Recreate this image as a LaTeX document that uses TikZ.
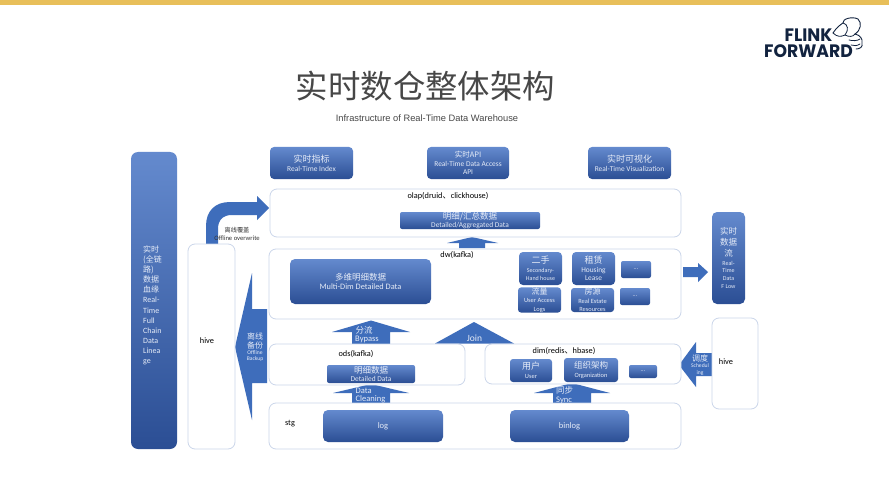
\documentclass[tikz,border=0pt]{standalone}
\usepackage{fontspec}
\setmainfont{Carlito}
\newfontfamily\cjk{Noto Sans CJK SC}
\newfontfamily\arialf{Liberation Sans}
\newfontfamily\logof{Poppins}[BoldFont={Poppins Bold}]
\definecolor{gtop}{HTML}{648ACE}
\definecolor{gbot}{HTML}{2B4E94}
\definecolor{arrowblue}{HTML}{3E6DBB}
\definecolor{edge}{HTML}{CBD6EA}
\definecolor{gold}{HTML}{E8BF5A}
\definecolor{navy}{HTML}{12233F}
\definecolor{paleText}{HTML}{E6ECF8}
\newcommand\zh[2]{{\cjk\fontsize{#1}{#1}\selectfont #2}}
\newcommand\en[2]{{\fontsize{#1}{#1}\selectfont #2}}
\tikzset{
  sz/.style 2 args={minimum width=#1pt,minimum height=#2pt},
  bluebox/.style={rounded corners=#1pt,top color=gtop,bottom color=gbot,draw=none,text=paleText,
    align=center,inner sep=0pt,font=\fontsize{7}{8.6}\selectfont},
  bluebox/.default=4,
  panel/.style={rounded corners=7pt,draw=edge,line width=.8pt,fill=white,inner sep=0pt},
  tag/.style={text=black,inner sep=0pt,font=\fontsize{8.3}{10}\selectfont},
  blockarrow/.style={fill=arrowblue,draw=none},
  arrowtext/.style={text=paleText,inner sep=0pt,align=center,font=\fontsize{7}{8}\selectfont},
  logotext/.style={inner sep=0pt,text=navy,align=center,xscale=.957,transform shape,font=\logof\bfseries\fontsize{18}{16}\selectfont},
}
\begin{document}
\begin{tikzpicture}[x=1pt,y=-1pt]
\useasboundingbox (0,0) rectangle (889,500);
\fill[white] (0,0) rectangle (889,500);
\fill[gold] (0,0) rectangle (889,5);

% logo
\node[logotext] (logo) at (808.5,43) {FLINK\\FORWARD};
\draw[navy,line width=.9pt,line join=round,line cap=round]
  (833,33) .. controls (837,27) and (840,25) .. (843,23)
  .. controls (842,19) and (852,16) .. (858,19)
  .. controls (862,23) and (861,30) .. (855,34)
  .. controls (860,35) and (863,39) .. (862,43)
  .. controls (863,47) and (860,49) .. (856,49);
\draw[navy,line width=.8pt,line cap=round]
  (843,23) .. controls (848,24) and (849,30) .. (845,35)
  .. controls (841,37) and (837,37) .. (833,33);
\draw[navy,line width=.8pt,line cap=round]
  (845,35) .. controls (849,37) and (853,37) .. (855,34)
  (849,40) .. controls (853,41) and (857,41) .. (860,39)
  (851,45) .. controls (854,46) and (857,46) .. (860,44);

% titles
\node[inner sep=0pt,text=black!72] (title) at (425.5,86) {\zh{32.4}{实时数仓整体架构}};
\node[inner sep=0pt,text=black!72] (subtitle) at (427,118.5) {\arialf\fontsize{9.3}{11}\selectfont Infrastructure of Real-Time Data Warehouse};

% block arrows (drawn first; panels overlap them)
\fill[blockarrow] (206,246) -- (206,226) .. controls (206,211) and (215,202) .. (230,202)
  -- (257,202) -- (257,196) -- (269,208) -- (257,220) -- (257,215) -- (232,215)
  .. controls (223,215) and (218,220) .. (218,229) -- (218,246) -- cycle;
\fill[blockarrow] (472,237) -- (498,243) -- (485,243) -- (485,248) -- (459,248) -- (459,243) -- (447,243) -- cycle;
\fill[blockarrow] (683,267) -- (698,267) -- (698,263) -- (708,272) -- (698,282) -- (698,277) -- (683,277) -- cycle;
\fill[blockarrow] (371,320.5) -- (410,332) -- (390,332) -- (390,345) -- (352,345) -- (352,332) -- (332,332) -- cycle;
\fill[blockarrow] (371,384) -- (409,393) -- (390,393) -- (390,404) -- (352,404) -- (352,393) -- (333,393) -- cycle;
\fill[blockarrow] (474,322) -- (514,343.5) -- (435,343.5) -- cycle;
\fill[blockarrow] (572,383) -- (610,393) -- (591,393) -- (591,404) -- (553,404) -- (553,393) -- (534,393) -- cycle;
\fill[blockarrow] (235,347) -- (252,273) -- (252,309) -- (267,309) -- (267,383) -- (252,383) -- (252,420) -- cycle;
\fill[blockarrow] (679,365) -- (696,342) -- (696,353) -- (713,353) -- (713,376) -- (696,376) -- (696,387) -- cycle;

% arrow labels
\node[arrowtext] (bypassZh) at (364,330) {\zh{8.5}{分流}};
\node[arrowtext] (bypassEn) at (367,339) {\en{8.5}{Bypass}};
\node[arrowtext,anchor=west] (cleanA) at (355.5,391) {\en{8.5}{Data}};
\node[arrowtext,anchor=west] (cleanB) at (355.5,399.5) {\en{8.5}{Cleaning}};
\node[arrowtext] (joinT) at (474.5,338) {\en{9.5}{Join}};
\node[arrowtext,anchor=west] (syncZh) at (556,390.5) {\zh{8.5}{同步}};
\node[arrowtext,anchor=west] (syncEn) at (556,400) {\en{8.5}{Sync}};
\node[arrowtext] (backupA) at (255,336) {\zh{8}{离线}};
\node[arrowtext] (backupB) at (255,345) {\zh{8}{备份}};
\node[arrowtext] (backupC) at (255,352.3) {\en{5.6}{Offline}};
\node[arrowtext] (backupD) at (255,359) {\en{5.6}{Backup}};
\node[arrowtext] (schedA) at (700,358.5) {\zh{8}{调度}};
\node[arrowtext] (schedB) at (700,366) {\en{5.6}{Schedul}};
\node[arrowtext] (schedC) at (700,373) {\en{5.6}{ing}};
\node[inner sep=0pt,text=black!80] (overA) at (237,230) {\zh{6.2}{离线覆盖}};
\node[inner sep=0pt,text=black!80] (overB) at (237,238) {\en{6.6}{Offline overwrite}};

% lineage column
\node[bluebox=7,sz={46}{297}] (lineage) at (154,300.5) {};
\node[anchor=north west,inner sep=0pt,text=paleText,align=left,font=\fontsize{8}{10.1}\selectfont] (lineageT) at (143,245.5)
  {\zh{8}{实时}\\\zh{8}{(全链}\\\zh{8}{路)}\\\zh{8}{数据}\\\zh{8}{血缘}\\Real-\\Time\\Full\\Chain\\Data\\Linea\\ge};

% panels
\node[panel,sz={47}{205}] (hiveL) at (211.5,346.5) {};
\node[tag] (hiveLT) at (207,341) {hive};
\node[panel,sz={411}{48}] (olap) at (475.5,213) {};
\node[tag] (olapT) at (448,196.5) {olap(druid\zh{8.2}{、}clickhouse)};
\node[panel,sz={412}{70}] (dw) at (475,284) {};
\node[tag] (dwT) at (457,255.5) {dw(kafka)};
\node[panel,sz={196}{41}] (ods) at (367,364.5) {};
\node[tag] (odsT) at (356,354) {ods(kafka)};
\node[panel,sz={196}{40}] (dim) at (583,364) {};
\node[tag] (dimT) at (564,351.5) {dim(redis\zh{8.2}{、}hbase)};
\node[panel,sz={412}{46}] (stg) at (475,426) {};
\node[tag] (stgT) at (290,424) {stg};
\node[panel,sz={46}{91}] (hiveR) at (735,363.5) {};
\node[tag] (hiveRT) at (726,361.5) {hive};

% blue boxes
\node[bluebox,sz={83}{32}] (index) at (311.5,163) {\zh{9}{实时指标}\\\en{7.5}{Real-Time Index}};
\node[bluebox,sz={82}{32}] (api) at (468,163) {\zh{7.5}{实时API}\\\en{7.4}{Real-Time Data Access}\\\en{7.4}{API}};
\node[bluebox,sz={83}{32}] (vis) at (629.5,163) {\zh{9}{实时可视化}\\\en{7.4}{Real-Time Visualization}};
\node[bluebox=2,sz={140}{17}] (agg) at (470,220.5) {\zh{8.5}{明细/汇总数据}\\[-1pt]\en{7.4}{Detailed/Aggregated Data}};
\node[bluebox=5,sz={141}{45}] (multi) at (360.5,281.5) {\zh{8.5}{多维明细数据}\\[1pt]\en{8.3}{Multi-Dim Detailed Data}};
\node[bluebox,sz={43}{33}] (second) at (540.5,268.5) {\zh{9}{二手}\\\en{6}{Secondary-}\\\en{6}{Hand house}};
\node[bluebox,sz={43}{33}] (lease) at (593.5,268.5) {\zh{9}{租赁}\\\en{7.4}{Housing}\\\en{7.4}{Lease}};
\node[bluebox=2,sz={30}{17}] (moreA) at (636,269.5) {\en{6}{...}};
\node[bluebox=3,sz={43}{24}] (logs) at (539.5,300) {\zh{8}{流量}\\\en{6.4}{User Access}\\\en{6.4}{Logs}};
\node[bluebox=3,sz={43}{24}] (estate) at (592.5,300) {\zh{8}{房源}\\\en{6.4}{Real Estate}\\\en{6.4}{Resources}};
\node[bluebox=2,sz={30}{17}] (moreB) at (635,296.5) {\en{6}{...}};
\node[bluebox=5,sz={33}{92}] (stream) at (728.5,258) {};
\node[inner sep=0pt,text=paleText,align=center,font=\fontsize{7}{7.7}\selectfont] (streamT) at (728.5,257.5)
  {\zh{8.5}{实时}\\[2.3pt]\zh{8.5}{数据}\\[2.3pt]\zh{8.5}{流}\\[1pt]\en{6}{Real-}\\\en{6}{Time}\\\en{6}{Data}\\\en{6}{F Low}};
\node[bluebox=2,sz={88}{18}] (detail) at (371,374) {\zh{8.5}{明细数据}\\[-1pt]\en{7.4}{Detailed Data}};
\node[bluebox=3,sz={42}{23}] (user) at (531,370.5) {\zh{9}{用户}\\\en{6.4}{User}};
\node[bluebox=3,sz={54}{24}] (org) at (591,370) {\zh{8.5}{组织架构}\\\en{6.4}{Organization}};
\node[bluebox=2,sz={28}{13}] (moreC) at (643,371.5) {\en{6}{...}};
\node[bluebox=5,sz={120}{32}] (log) at (383,426) {\en{8.5}{log}};
\node[bluebox=5,sz={119}{32}] (binlog) at (569.5,426) {\en{8.5}{binlog}};
\end{tikzpicture}
\end{document}
